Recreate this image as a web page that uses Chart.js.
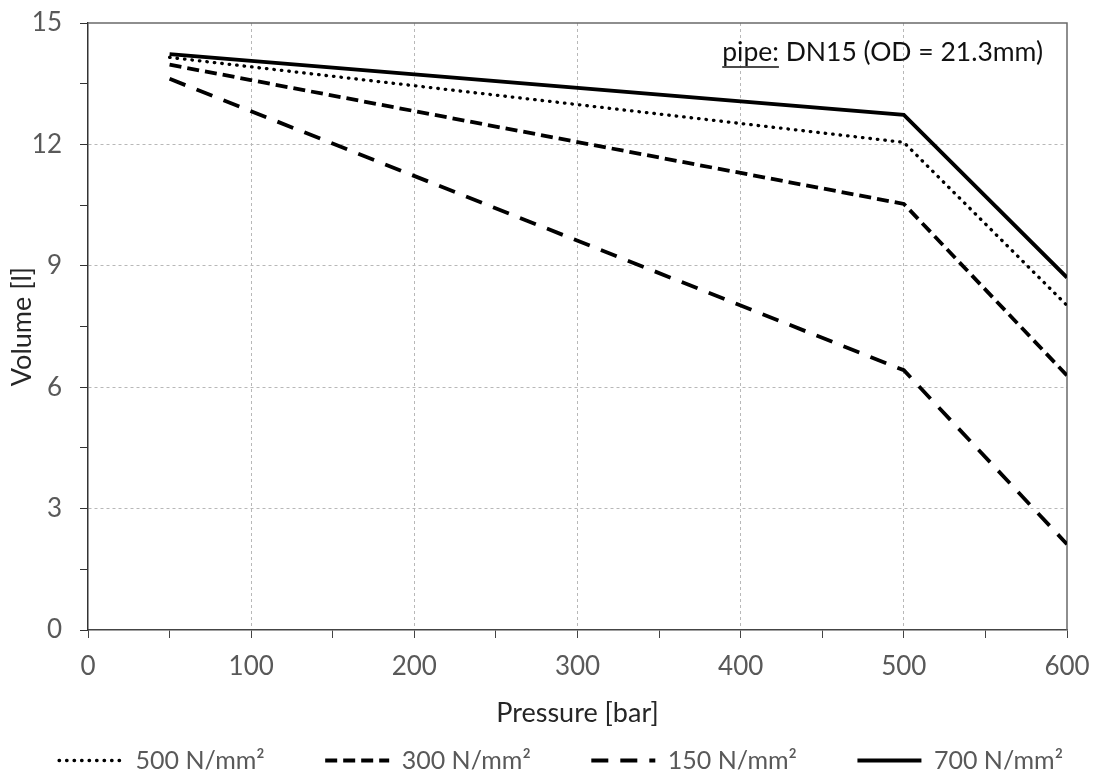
<!DOCTYPE html>
<html>
<head>
<meta charset="utf-8">
<script src="https://cdn.jsdelivr.net/npm/chart.js@4/dist/chart.umd.min.js"></script>
<style>
  html, body { margin: 0; padding: 0; background: #fff; }
  #wrap { width: 1093px; height: 776px; }
</style>
</head>
<body>
<div id="wrap"><canvas id="c" width="1093" height="776"></canvas></div>
<script>
// Volume [l] against pressure [bar] for several material strengths
const pressure = [50, 500, 600];
const vol500 = [14.15, 12.05, 8.02];
const vol300 = [13.97, 10.53, 6.29];
const vol150 = [13.62, 6.42, 2.12];
const vol700 = [14.23, 12.73, 8.71];
const seriesLabels = ['500 N/mm²', '300 N/mm²', '150 N/mm²', '700 N/mm²'];
const xTitle = 'Pressure [bar]';
const yTitle = 'Volume [l]';
const noteLabel = 'pipe:';
const noteText = ' DN15 (OD = 21.3mm)';

const FONT = 'Lato';
const tickGray = '#595959';
const legendSize = 25;
const sampleW = 64;
const legendGap = 9;
const itemPitch = 267;

const pts = vals => pressure.map((p, i) => ({ x: p, y: vals[i] }));

const lineBase = { borderColor: '#000', backgroundColor: '#000', pointRadius: 0, pointHoverRadius: 0, tension: 0, fill: false };

const datasets = [
  Object.assign({}, lineBase, { label: seriesLabels[0], data: pts(vol500), borderWidth: 3.3, borderDash: [0.5, 7], borderCapStyle: 'round' }),
  Object.assign({}, lineBase, { label: seriesLabels[1], data: pts(vol300), borderWidth: 3.8, borderDash: [12, 6], borderCapStyle: 'butt' }),
  Object.assign({}, lineBase, { label: seriesLabels[2], data: pts(vol150), borderWidth: 3.8, borderDash: [17, 12], borderCapStyle: 'butt' }),
  Object.assign({}, lineBase, { label: seriesLabels[3], data: pts(vol700), borderWidth: 3.8, borderDash: [], borderCapStyle: 'butt' })
];

// top and right edges of the plot box
const frame = {
  id: 'frame',
  beforeDatasetsDraw(chart) {
    const { ctx, chartArea: a } = chart;
    ctx.save();
    ctx.strokeStyle = '#6a6a6a';
    ctx.lineWidth = 1.5;
    ctx.beginPath();
    ctx.moveTo(a.left, a.top);
    ctx.lineTo(a.right, a.top);
    ctx.lineTo(a.right, a.bottom);
    ctx.stroke();
    ctx.restore();
  }
};

// pipe note in the top right corner
const note = {
  id: 'note',
  afterDraw(chart) {
    const { ctx, chartArea: a } = chart;
    ctx.save();
    const size = 26.5;
    ctx.font = `${size}px ${FONT}`;
    ctx.fillStyle = '#111';
    ctx.textBaseline = 'alphabetic';
    const w1 = ctx.measureText(noteLabel).width;
    const w2 = ctx.measureText(noteText).width;
    const right = a.right - 24;
    const x0 = right - w1 - w2;
    const base = a.top + 38;
    ctx.fillText(noteLabel, x0, base);
    ctx.fillText(noteText, x0 + w1, base);
    ctx.strokeStyle = '#111';
    ctx.lineWidth = 1.4;
    ctx.beginPath();
    ctx.moveTo(x0, base + 6);
    ctx.lineTo(x0 + w1, base + 6);
    ctx.stroke();
    ctx.restore();
  }
};

const gridColor = (step, lo, hi) => c => {
  const v = c.tick ? c.tick.value : null;
  if (v === null) return 'transparent';
  const major = Math.abs(v / step - Math.round(v / step)) < 1e-6;
  return major && v > lo && v < hi ? '#b8b8b8' : 'transparent';
};

new Chart(document.getElementById('c'), {
  type: 'line',
  data: { datasets },
  plugins: [frame, note],
  options: {
    responsive: false,
    animation: false,
    events: [],
    layout: { padding: { left: 0, right: 21, top: 23, bottom: -7 } },
    scales: {
      x: {
        type: 'linear',
        min: 0, max: 600,
        afterFit: s => { s.height = 109; s.paddingLeft = 0; s.paddingRight = 26; },
        ticks: {
          stepSize: 50, autoSkip: false, maxRotation: 0, padding: 13,
          color: tickGray, font: { family: FONT, size: 26 },
          callback: v => (v % 100 === 0 ? String(v) : '')
        },
        grid: { color: gridColor(100, 0, 600), tickColor: '#444', tickLength: 8, lineWidth: 1 },
        border: { color: '#444', width: 1.5, dash: [3, 3] },
        title: { display: true, text: xTitle, color: '#262626', font: { family: FONT, size: 27 }, padding: { top: 4, bottom: 10 } }
      },
      y: {
        min: 0, max: 15,
        afterFit: s => { s.width = 88; s.paddingTop = 0; s.paddingBottom = 0; },
        ticks: {
          stepSize: 1.5, autoSkip: false, padding: 18,
          color: tickGray, font: { family: FONT, size: 26 },
          callback: v => (Math.abs(v % 3) < 1e-6 ? String(v) : '')
        },
        grid: { color: gridColor(3, 0, 15), tickColor: '#333', tickLength: 8, lineWidth: 1 },
        border: { color: '#333', width: 1.5, dash: [3, 3] },
        title: { display: true, text: yTitle, color: '#262626', font: { family: FONT, size: 27 }, padding: { top: 6, bottom: 6 } }
      }
    },
    plugins: {
      tooltip: { enabled: false },
      legend: {
        position: 'bottom',
        align: 'end',
        labels: {
          usePointStyle: true,
          pointStyle: 'line',
          pointStyleWidth: sampleW,
          padding: legendGap,
          color: tickGray,
          font: { family: FONT, size: legendSize },
          generateLabels(chart) {
            const items = Chart.defaults.plugins.legend.labels.generateLabels(chart);
            const ctx = chart.ctx;
            ctx.save();
            ctx.font = `${legendSize}px ${FONT}`;
            items.forEach((it, i) => {
              const ds = chart.data.datasets[it.datasetIndex];
              it.lineDash = ds.borderDash;
              it.lineWidth = ds.borderWidth;
              it.lineCap = ds.borderCapStyle;
              it.strokeStyle = ds.borderColor;
              it.pointStyle = 'line';
              if (i < items.length - 1) {
                let t = it.text;
                while (sampleW + legendSize / 2 + ctx.measureText(t + '\u200A').width + legendGap <= itemPitch) t += '\u200A';
                it.text = t;
              }
            });
            ctx.restore();
            return items;
          }
        }
      }
    }
  }
});
</script>
</body>
</html>
